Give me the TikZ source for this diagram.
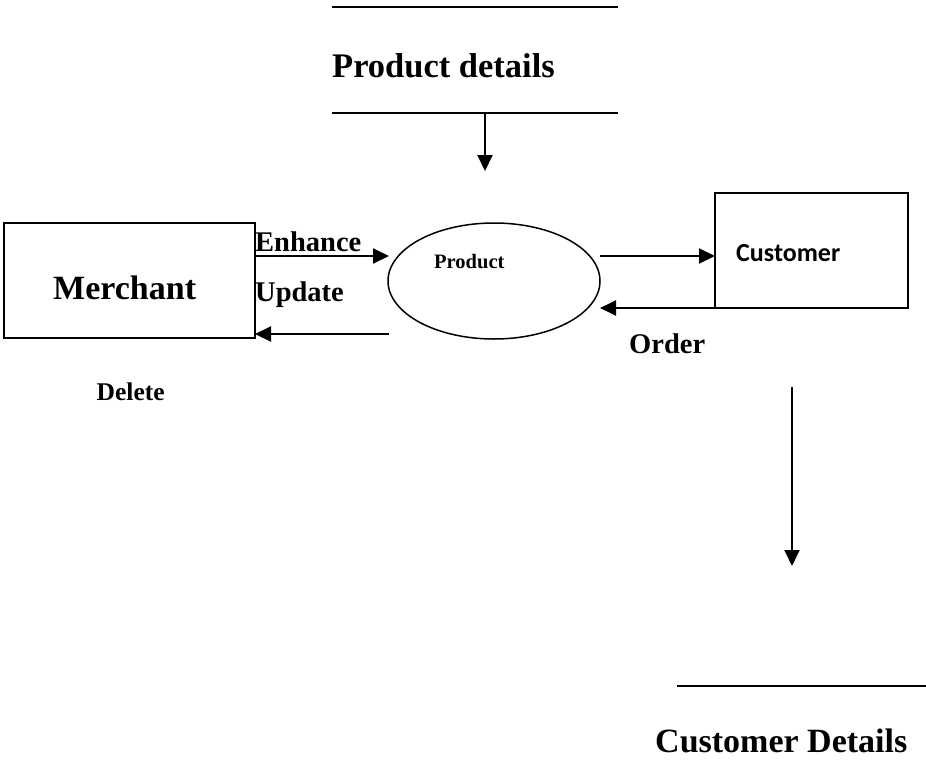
\documentclass[tikz,border=0pt]{standalone}
\usepackage{fontspec}
\setmainfont{Liberation Serif}
\newfontfamily\carlito{Carlito}
\usetikzlibrary{arrows.meta,shapes.geometric}
\begin{document}
\begin{tikzpicture}[x=1pt,y=-1pt,
  boxstyle/.style={draw,line width=1.5pt,rectangle,inner sep=0pt},
  flow/.style={line width=2pt,-{Triangle[length=16pt,width=15pt]}},
  storeline/.style={line width=2pt},
  lbl/.style={inner sep=0pt,anchor=base west,font=\bfseries}]
\useasboundingbox (0,0) rectangle (926,761);
% data store: Product details
\coordinate (pdtl) at (332,7);
\coordinate (pdtr) at (618,7);
\coordinate (pdbl) at (332,113);
\coordinate (pdbr) at (618,113);
\draw[storeline] (pdtl) -- (pdtr);
\draw[storeline] (pdbl) -- (pdbr);
\node[lbl,font=\fontsize{34.5}{40}\selectfont\bfseries] (pdtext) at (332,77) {Product details};
\coordinate (pdout) at (485,113);
\coordinate (pdin) at (485,171);
\draw[flow] (pdout) -- (pdin);
% merchant
\node[boxstyle,minimum width=251pt,minimum height=115pt] (merchant) at (129.5,280.5) {};
\node[lbl,font=\fontsize{34}{40}\selectfont\bfseries] (merchanttext) at (53,299) {Merchant};
% product process
\node[draw,line width=1.5pt,ellipse,minimum width=212pt,minimum height=116pt,inner sep=0pt] (product) at (494,281) {};
\node[lbl,font=\fontsize{20.5}{24}\selectfont\bfseries] (producttext) at (434,268.5) {Product};
% customer
\node[boxstyle,minimum width=193pt,minimum height=115pt] (customer) at (811.5,250.5) {};
\node[inner sep=0pt,anchor=base west,font=\fontsize{26}{30}\selectfont\carlito\bfseries] (customertext) at (736,261) {Customer};
% flows merchant <-> product
\coordinate (enhs) at (255,256);
\coordinate (enhe) at (389,256);
\draw[flow] (enhs) -- (enhe);
\coordinate (dels) at (389,334);
\coordinate (dele) at (255,334);
\draw[flow] (dels) -- (dele);
\node[lbl,font=\fontsize{28.5}{34}\selectfont\bfseries] (enh) at (255,251.5) {Enhance};
\node[lbl,font=\fontsize{28.5}{34}\selectfont\bfseries] (upd) at (255,301.5) {Update};
\node[lbl,font=\fontsize{25.5}{30}\selectfont\bfseries] (del) at (96.5,400.5) {Delete};
% flows product <-> customer
\coordinate (pcs) at (600,256);
\coordinate (pce) at (715,256);
\draw[flow] (pcs) -- (pce);
\coordinate (ords) at (715,308);
\coordinate (orde) at (600,308);
\draw[flow] (ords) -- (orde);
\node[lbl,font=\fontsize{28.5}{34}\selectfont\bfseries] (order) at (629,353) {Order};
% flow to customer details
\coordinate (cds) at (792,387);
\coordinate (cde) at (792,566);
\draw[flow] (cds) -- (cde);
\coordinate (cdl) at (677,686);
\coordinate (cdr) at (926,686);
\draw[storeline] (cdl) -- (cdr);
\node[lbl,font=\fontsize{34}{40}\selectfont\bfseries] (cdtext) at (655,752) {Customer Details};
\end{tikzpicture}
\end{document}
